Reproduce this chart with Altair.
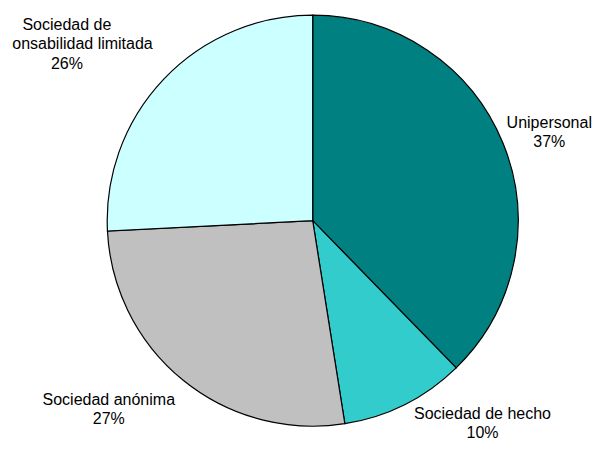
import altair as alt
import pandas as pd

categories = ["Unipersonal", "Sociedad de hecho", "Sociedad anónima",
              "Sociedad de responsabilidad limitada"]
values = [37.7, 9.8, 26.7, 25.8]
pct_labels = ["37%", "10%", "27%", "26%"]
label_lines = [
    ["Unipersonal", "37%"],
    ["Sociedad de hecho", "10%"],
    ["Sociedad anónima", "27%"],
    ["Sociedad de", "responsabilidad limitada", "26%"],
]
colors = ["#008080", "#33CCCC", "#C0C0C0", "#CCFFFF"]

df = pd.DataFrame({
    "cat": categories,
    "val": values,
    "pct": pct_labels,
    "label": ["\n".join(l) for l in label_lines],
    "idx": list(range(len(categories))),
})

PAD_L, PAD_T = 4, 0
W, H = 581, 434
CX, CY = 312.7 - 8 - PAD_L, 220.7 - 8 - PAD_T
R = 205.5

base = alt.Chart(df).encode(
    theta=alt.Theta("val:Q").stack(True),
    order=alt.Order("idx:Q"),
    x=alt.value(CX),
    y=alt.value(CY),
)

pie = base.mark_arc(radius=R, stroke="black", strokeWidth=1.2).encode(
    color=alt.Color("cat:N", scale=alt.Scale(domain=categories, range=colors), legend=None)
)

offsets = [(5.0, -3.75), (57.7, -30.5), (-46.4, -15.0), (-64.6, -23.5)]
layers = [pie]
for cat, (dx, dy) in zip(categories, offsets):
    t = base.mark_text(
        radius=250, dx=dx, dy=dy, lineBreak="\n", font="Liberation Sans",
        fontSize=16, lineHeight=19.5, color="black", align="center",
        baseline="middle", clip=True,
    ).encode(
        detail="cat:N",
        text=alt.condition(alt.datum.cat == cat, "label:N", alt.value("")),
    )
    layers.append(t)

chart = alt.layer(*layers).properties(
    width=W, height=H,
    autosize=alt.AutoSizeParams(type="none"),
    padding={"left": PAD_L, "top": PAD_T, "right": 0, "bottom": 0},
).configure_view(stroke=None)

chart.save("out.html", embed_options={"renderer": "svg", "actions": False})
